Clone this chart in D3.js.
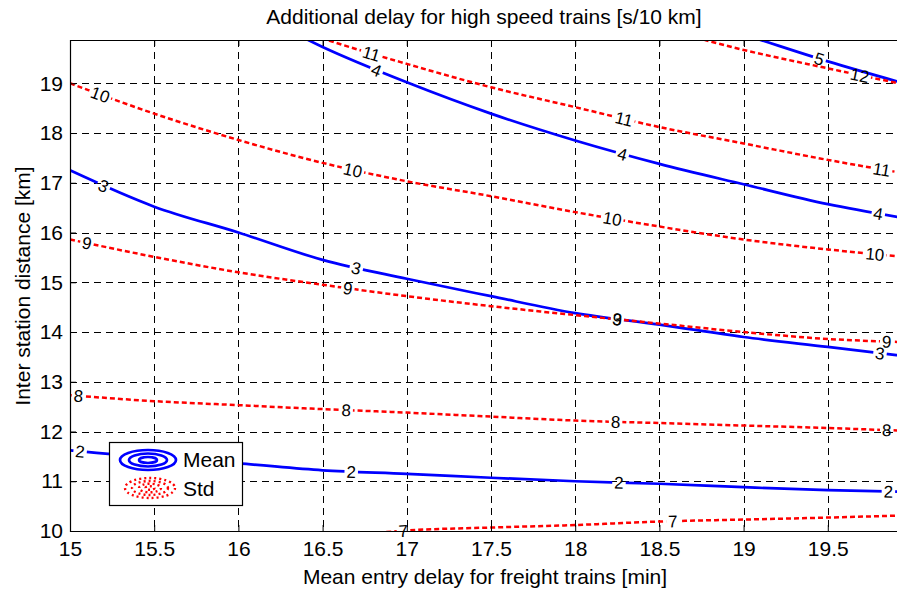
<!DOCTYPE html>
<html>
<head>
<meta charset="utf-8">
<script src="https://cdn.jsdelivr.net/npm/d3@7"></script>
<style>
  body { margin: 0; background: #fff; }
  svg { display: block; font-family: "Liberation Sans", Arial, Helvetica, sans-serif; }
</style>
</head>
<body>
<div id="chart"></div>
<script>
// sample points on x (mean entry delay for freight trains, min)
const xValues = [15, 15.5, 16, 16.5, 17, 17.5, 18, 18.5, 19, 19.5, 19.92];
const xTicks = [15, 15.5, 16, 16.5, 17, 17.5, 18, 18.5, 19, 19.5];
const yTicks = [10, 11, 12, 13, 14, 15, 16, 17, 18, 19];

// Mean contours (blue) - inter station distance [km] at each x sample
const meanLevels = [2, 3, 4, 5];
const mean2 = [11.62, 11.47, 11.36, 11.22, 11.15, 11.07, 11.0, 10.95, 10.88, 10.82, 10.79];
const mean3 = [17.25, 16.52, 16.0, 15.45, 15.07, 14.72, 14.38, 14.15, 13.9, 13.7, 13.53];
const mean4 = [null, null, 20.6, 19.73, 19.02, 18.39, 17.85, 17.38, 16.97, 16.57, 16.31];
const mean5 = [null, null, null, null, null, null, null, 20.5, 19.98, 19.44, 19.03];
const meanLabelX = [
    [15.06, 16.67, 18.26, 19.86],
    [15.2, 16.7, 18.25, 19.81],
    [16.82, 18.28, 19.8],
    [19.45]
];

// Std contours (red dotted)
const stdLevels = [7, 8, 9, 10, 11, 12];
const std7 = [null, null, null, 9.85, 10.01, 10.07, 10.12, 10.19, 10.23, 10.27, 10.31];
const std8 = [12.73, 12.61, 12.53, 12.45, 12.38, 12.3, 12.22, 12.17, 12.12, 12.07, 12.02];
const std9 = [15.86, 15.51, 15.2, 14.95, 14.72, 14.52, 14.34, 14.17, 14.0, 13.86, 13.8];
const std10 = [19.0, 18.39, 17.86, 17.4, 17.03, 16.73, 16.41, 16.12, 15.86, 15.66, 15.52];
const std11 = [null, null, 20.5, 19.9, 19.39, 18.92, 18.52, 18.12, 17.79, 17.46, 17.21];
const std12 = [null, null, null, 20.6, 20.55, 20.5, 20.4, 20.1, 19.67, 19.3, 19.0];
const stdLabelX = [
    [16.98, 18.58],
    [15.05, 16.64, 18.24, 19.85],
    [15.1, 16.65, 18.25, 19.85],
    [15.18, 16.68, 18.22, 19.78],
    [16.79, 18.29, 19.82],
    [19.69]
];

const width = 897, height = 592;
const plotLeft = 70, plotRight = 897, plotTop = 40, plotBottom = 531;
const fontSize = 21;

const svg = d3.select("#chart").append("svg")
    .attr("width", width)
    .attr("height", height);

const x = d3.scaleLinear().domain([15, 19.911]).range([plotLeft, plotRight]);
const y = d3.scaleLinear().domain([10, 19.87]).range([plotBottom, plotTop]);

const defs = svg.append("defs");
defs.append("clipPath").attr("id", "plotClip")
    .append("rect")
    .attr("x", plotLeft).attr("y", plotTop)
    .attr("width", plotRight - plotLeft).attr("height", plotBottom - plotTop);

// grid
svg.append("g").selectAll("line")
    .data(xTicks.filter(d => d !== 15))
    .enter().append("line")
    .attr("x1", d => Math.round(x(d)) + 0.5)
    .attr("x2", d => Math.round(x(d)) + 0.5)
    .attr("y1", plotTop).attr("y2", plotBottom)
    .attr("stroke", "#000")
    .attr("stroke-dasharray", "7,5");

svg.append("g").selectAll("line")
    .data(yTicks.filter(d => d !== 10))
    .enter().append("line")
    .attr("y1", d => Math.round(y(d)) + 0.5)
    .attr("y2", d => Math.round(y(d)) + 0.5)
    .attr("x1", plotLeft).attr("x2", plotRight)
    .attr("stroke", "#000")
    .attr("stroke-dasharray", "7,5");

const plot = svg.append("g").attr("clip-path", "url(#plotClip)");
const labelLayer = svg.append("g");

const line = d3.line()
    .defined(d => d[1] !== null)
    .x(d => x(d[0]))
    .y(d => y(d[1]))
    .curve(d3.curveMonotoneX);

// draws one contour line with its inline labels (gaps cut out with a mask)
function drawContour(values, level, labelXs, color, dash, id) {
    const pts = xValues.map((v, i) => [v, values[i]]);
    const path = plot.append("path")
        .datum(pts)
        .attr("d", line)
        .attr("fill", "none")
        .attr("stroke", color)
        .attr("stroke-width", dash ? 2.5 : 2.7)
        .attr("stroke-dasharray", dash);

    const node = path.node();
    const total = node.getTotalLength();

    const mask = defs.append("mask").attr("id", id)
        .attr("maskUnits", "userSpaceOnUse")
        .attr("x", 0).attr("y", 0).attr("width", width).attr("height", height);
    mask.append("rect").attr("width", width).attr("height", height).attr("fill", "#fff");

    labelXs.forEach(lx => {
        const px = x(lx);
        // binary search along the path for the wanted x
        let lo = 0, hi = total;
        for (let k = 0; k < 30; k++) {
            const mid = (lo + hi) / 2;
            if (node.getPointAtLength(mid).x < px) lo = mid; else hi = mid;
        }
        const p = node.getPointAtLength(lo);
        const a = node.getPointAtLength(Math.max(0, lo - 6));
        const b = node.getPointAtLength(Math.min(total, lo + 6));
        const angle = Math.atan2(b.y - a.y, b.x - a.x) * 180 / Math.PI;

        const t = labelLayer.append("text")
            .attr("transform", `translate(${p.x},${p.y}) rotate(${angle})`)
            .attr("text-anchor", "middle")
            .attr("dy", "0.36em")
            .attr("font-size", 17)
            .attr("fill", "#000")
            .text(level);
        const w = t.node().getComputedTextLength() + 4;
        mask.append("rect")
            .attr("x", -w / 2).attr("y", -7)
            .attr("width", w).attr("height", 14)
            .attr("fill", "#000")
            .attr("transform", `translate(${p.x},${p.y}) rotate(${angle})`);
    });
    path.attr("mask", `url(#${id})`);
}

const meanLines = [mean2, mean3, mean4, mean5];
meanLines.forEach((vals, i) => {
    drawContour(vals, meanLevels[i], meanLabelX[i], "#0000ff", null, "mMean" + i);
});
const stdLines = [std7, std8, std9, std10, std11, std12];
stdLines.forEach((vals, i) => {
    drawContour(vals, stdLevels[i], stdLabelX[i], "#ff0000", "5,3", "mStd" + i);
});

// axes
const xAxis = svg.append("g")
    .attr("transform", `translate(0,${plotBottom})`)
    .call(d3.axisBottom(x).tickValues(xTicks).tickSize(-6).tickPadding(10).tickFormat(d3.format("")));
const xAxisTop = svg.append("g")
    .attr("transform", `translate(0,${plotTop})`)
    .call(d3.axisTop(x).tickValues(xTicks).tickSize(-6).tickFormat(""));
const yAxis = svg.append("g")
    .attr("transform", `translate(${plotLeft},0)`)
    .call(d3.axisLeft(y).tickValues(yTicks).tickSize(-6).tickPadding(7).tickFormat(d3.format("")));

[xAxis, xAxisTop, yAxis].forEach(g => {
    g.select(".domain").remove();
    g.selectAll(".tick line").attr("stroke", "#000");
    g.selectAll("text").attr("font-size", fontSize).attr("fill", "#000")
        .attr("font-family", "\"Liberation Sans\", Arial, sans-serif");
});

// frame
svg.append("path")
    .attr("d", `M${plotRight},${plotTop + 0.5}H${plotLeft + 0.5}V${plotBottom + 0.5}H${plotRight}`)
    .attr("fill", "none")
    .attr("stroke", "#000")
    .attr("stroke-width", 1.2);

// titles
svg.append("text")
    .attr("x", 484).attr("y", 24)
    .attr("text-anchor", "middle")
    .attr("font-size", fontSize)
    .text("Additional delay for high speed trains [s/10 km]");

svg.append("text")
    .attr("x", 485).attr("y", 584)
    .attr("text-anchor", "middle")
    .attr("font-size", fontSize)
    .text("Mean entry delay for freight trains [min]");

svg.append("text")
    .attr("transform", "translate(30,286) rotate(-90)")
    .attr("text-anchor", "middle")
    .attr("font-size", fontSize)
    .text("Inter station distance [km]");

// legend
const legend = svg.append("g");
legend.append("rect")
    .attr("x", 109.5).attr("y", 442.5)
    .attr("width", 133).attr("height", 63)
    .attr("fill", "#fff")
    .attr("stroke", "#000")
    .attr("stroke-width", 1.2);

legend.selectAll("ellipse.mean")
    .data([[28, 10], [19, 6.5], [9, 3]])
    .enter().append("ellipse")
    .attr("class", "mean")
    .attr("cx", 148).attr("cy", 460)
    .attr("rx", d => d[0]).attr("ry", d => d[1])
    .attr("fill", "none")
    .attr("stroke", "#0000ff")
    .attr("stroke-width", 2.7);

legend.selectAll("ellipse.std")
    .data([[25, 10], [18, 7], [11, 4.3], [4.5, 1.8]])
    .enter().append("ellipse")
    .attr("class", "std")
    .attr("cx", 150).attr("cy", 488)
    .attr("rx", d => d[0]).attr("ry", d => d[1])
    .attr("fill", "none")
    .attr("stroke", "#ff0000")
    .attr("stroke-width", 2.4)
    .attr("stroke-dasharray", "2,3");

legend.append("text").attr("x", 183).attr("y", 467).attr("font-size", fontSize).text("Mean");
legend.append("text").attr("x", 183).attr("y", 496).attr("font-size", fontSize).text("Std");
</script>
</body>
</html>
